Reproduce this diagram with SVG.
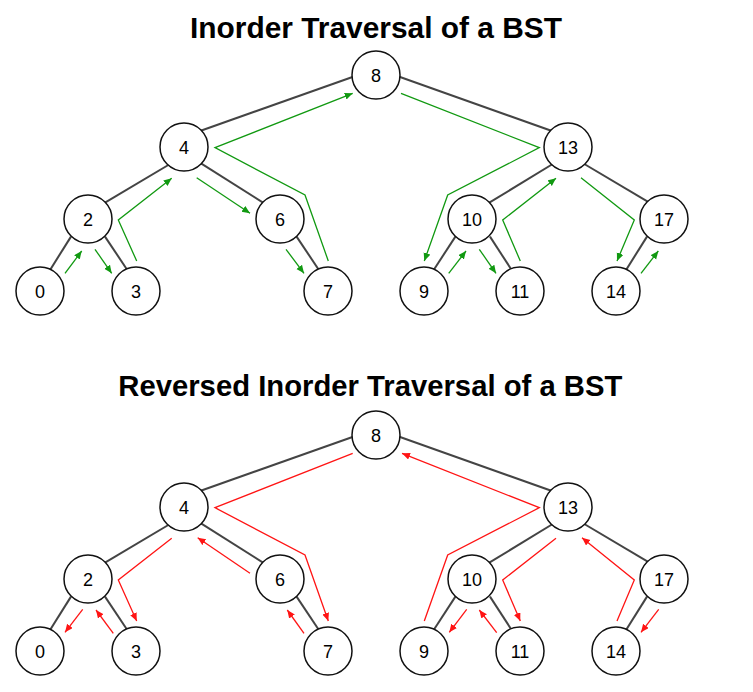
<svg xmlns="http://www.w3.org/2000/svg" width="753" height="692" viewBox="0 0 753 692">
<style>
.title{font-family:"Liberation Sans",Arial,sans-serif;font-weight:bold;font-size:30px;fill:#000;text-anchor:middle}
.node circle{fill:#fff;stroke:#111;stroke-width:1.5}
.node text{font-family:"Liberation Sans",Arial,sans-serif;font-size:18px;fill:#000;text-anchor:middle}
.edge{stroke:#444;stroke-width:2;fill:none}
.g{stroke:#119911;stroke-width:1.3;fill:none;marker-end:url(#ag)}
.r{stroke:#ff1414;stroke-width:1.3;fill:none;marker-end:url(#ar)}
</style>
<defs>
<marker id="ag" markerUnits="userSpaceOnUse" markerWidth="9" markerHeight="8" refX="8" refY="3.5" orient="auto"><path d="M0,0 L8,3.5 L0,7 z" fill="#119911"/></marker>
<marker id="ar" markerUnits="userSpaceOnUse" markerWidth="9" markerHeight="8" refX="8" refY="3.5" orient="auto"><path d="M0,0 L8,3.5 L0,7 z" fill="#ff1414"/></marker>
</defs>
<rect width="753" height="692" fill="#fff"/>
<text class="title" x="376" y="37.5" textLength="372" lengthAdjust="spacingAndGlyphs">Inorder Traversal of a BST</text>
<text class="title" x="370.3" y="396" textLength="504" lengthAdjust="spacingAndGlyphs">Reversed Inorder Traversal of a BST</text>
<g id="connectors">
<g id="edges-top">
<line class="edge" x1="356" y1="75.7" x2="200" y2="131"/>
<line class="edge" x1="396.5" y1="75.7" x2="552" y2="131"/>
<line class="edge" x1="170" y1="164" x2="105" y2="202.7"/>
<line class="edge" x1="200.6" y1="163.2" x2="263.4" y2="202.8"/>
<line class="edge" x1="552.7" y1="164" x2="489.3" y2="202.7"/>
<line class="edge" x1="584.3" y1="164" x2="649.4" y2="202.7"/>
<line class="edge" x1="71" y1="236.6" x2="49.6" y2="270.7"/>
<line class="edge" x1="105" y1="236.6" x2="127.8" y2="270.7"/>
<line class="edge" x1="296.6" y1="236.6" x2="319.4" y2="270.7"/>
<line class="edge" x1="455.4" y1="236.6" x2="433.2" y2="270.7"/>
<line class="edge" x1="490" y1="236.6" x2="512.1" y2="270.7"/>
<line class="edge" x1="647" y1="236.6" x2="625.6" y2="270.7"/>
</g>
<g id="edges-bottom" transform="translate(0,360)">
<line class="edge" x1="356" y1="75.7" x2="200" y2="131"/>
<line class="edge" x1="396.5" y1="75.7" x2="552" y2="131"/>
<line class="edge" x1="170" y1="164" x2="105" y2="202.7"/>
<line class="edge" x1="200.6" y1="163.2" x2="263.4" y2="202.8"/>
<line class="edge" x1="552.7" y1="164" x2="489.3" y2="202.7"/>
<line class="edge" x1="584.3" y1="164" x2="649.4" y2="202.7"/>
<line class="edge" x1="71" y1="236.6" x2="49.6" y2="270.7"/>
<line class="edge" x1="105" y1="236.6" x2="127.8" y2="270.7"/>
<line class="edge" x1="296.6" y1="236.6" x2="319.4" y2="270.7"/>
<line class="edge" x1="455.4" y1="236.6" x2="433.2" y2="270.7"/>
<line class="edge" x1="490" y1="236.6" x2="512.1" y2="270.7"/>
<line class="edge" x1="647" y1="236.6" x2="625.6" y2="270.7"/>
</g>
<g id="inorder-arrows">
<polyline class="g" points="65,273.3 81.7,251"/>
<polyline class="g" points="95,249.3 111.7,273.3"/>
<polyline class="g" points="136.7,261 118.3,220 171.7,178.3"/>
<polyline class="g" points="196.7,177.7 250,213.3"/>
<polyline class="g" points="286,249.3 304,273.3"/>
<polyline class="g" points="328.3,261 305,195 215,147.7 352.7,93.3"/>
<polyline class="g" points="401,93.3 539.3,147.7 447.7,195 424.3,261"/>
<polyline class="g" points="448.7,273.3 466,251"/>
<polyline class="g" points="479.3,249.3 496,273.3"/>
<polyline class="g" points="520.3,261 502.7,220 556,178.3"/>
<polyline class="g" points="581,177.7 634.3,220 617,261"/>
<polyline class="g" points="641,273.3 658.3,251"/>
</g>
<g id="reverse-arrows">
<polyline class="r" points="352.7,453.3 215,507.7 305,555 328.3,621"/>
<polyline class="r" points="171.7,538.3 118.3,580 136.7,621"/>
<polyline class="r" points="113.3,633.3 96,610"/>
<polyline class="r" points="82.7,609.3 65,632.3"/>
<polyline class="r" points="250,573.3 197.7,537.7"/>
<polyline class="r" points="304,633.3 287.3,610"/>
<polyline class="r" points="424.3,621 447.7,555 539.3,507.7 402,453.3"/>
<polyline class="r" points="556,538.3 502.7,580 520.3,621"/>
<polyline class="r" points="496.7,632.7 479.3,610"/>
<polyline class="r" points="466.7,609.3 449.3,632.3"/>
<polyline class="r" points="617,621 634.3,580 582,537.7"/>
<polyline class="r" points="658.7,609.3 641,632.3"/>
</g>
</g>
<g id="tree-top">
<g id="t-n8" class="node"><circle cx="376" cy="75" r="24"/><text x="376" y="81.5">8</text></g>
<g id="t-n4" class="node"><circle cx="184" cy="147" r="24"/><text x="184" y="153.5">4</text></g>
<g id="t-n13" class="node"><circle cx="568" cy="147" r="24"/><text x="568" y="153.5">13</text></g>
<g id="t-n2" class="node"><circle cx="88" cy="219" r="24"/><text x="88" y="225.5">2</text></g>
<g id="t-n6" class="node"><circle cx="280" cy="219" r="24"/><text x="280" y="225.5">6</text></g>
<g id="t-n10" class="node"><circle cx="472" cy="219" r="24"/><text x="472" y="225.5">10</text></g>
<g id="t-n17" class="node"><circle cx="664" cy="219" r="24"/><text x="664" y="225.5">17</text></g>
<g id="t-n0" class="node"><circle cx="40" cy="291" r="24"/><text x="40" y="297.5">0</text></g>
<g id="t-n3" class="node"><circle cx="136" cy="291" r="24"/><text x="136" y="297.5">3</text></g>
<g id="t-n7" class="node"><circle cx="328" cy="291" r="24"/><text x="328" y="297.5">7</text></g>
<g id="t-n9" class="node"><circle cx="424" cy="291" r="24"/><text x="424" y="297.5">9</text></g>
<g id="t-n11" class="node"><circle cx="520" cy="291" r="24"/><text x="520" y="297.5">11</text></g>
<g id="t-n14" class="node"><circle cx="616" cy="291" r="24"/><text x="616" y="297.5">14</text></g>
</g>
<g id="tree-bottom">
<g id="b-n8" class="node"><circle cx="376" cy="435" r="24"/><text x="376" y="441.5">8</text></g>
<g id="b-n4" class="node"><circle cx="184" cy="507" r="24"/><text x="184" y="513.5">4</text></g>
<g id="b-n13" class="node"><circle cx="568" cy="507" r="24"/><text x="568" y="513.5">13</text></g>
<g id="b-n2" class="node"><circle cx="88" cy="579" r="24"/><text x="88" y="585.5">2</text></g>
<g id="b-n6" class="node"><circle cx="280" cy="579" r="24"/><text x="280" y="585.5">6</text></g>
<g id="b-n10" class="node"><circle cx="472" cy="579" r="24"/><text x="472" y="585.5">10</text></g>
<g id="b-n17" class="node"><circle cx="664" cy="579" r="24"/><text x="664" y="585.5">17</text></g>
<g id="b-n0" class="node"><circle cx="40" cy="651" r="24"/><text x="40" y="657.5">0</text></g>
<g id="b-n3" class="node"><circle cx="136" cy="651" r="24"/><text x="136" y="657.5">3</text></g>
<g id="b-n7" class="node"><circle cx="328" cy="651" r="24"/><text x="328" y="657.5">7</text></g>
<g id="b-n9" class="node"><circle cx="424" cy="651" r="24"/><text x="424" y="657.5">9</text></g>
<g id="b-n11" class="node"><circle cx="520" cy="651" r="24"/><text x="520" y="657.5">11</text></g>
<g id="b-n14" class="node"><circle cx="616" cy="651" r="24"/><text x="616" y="657.5">14</text></g>
</g>
</svg>
